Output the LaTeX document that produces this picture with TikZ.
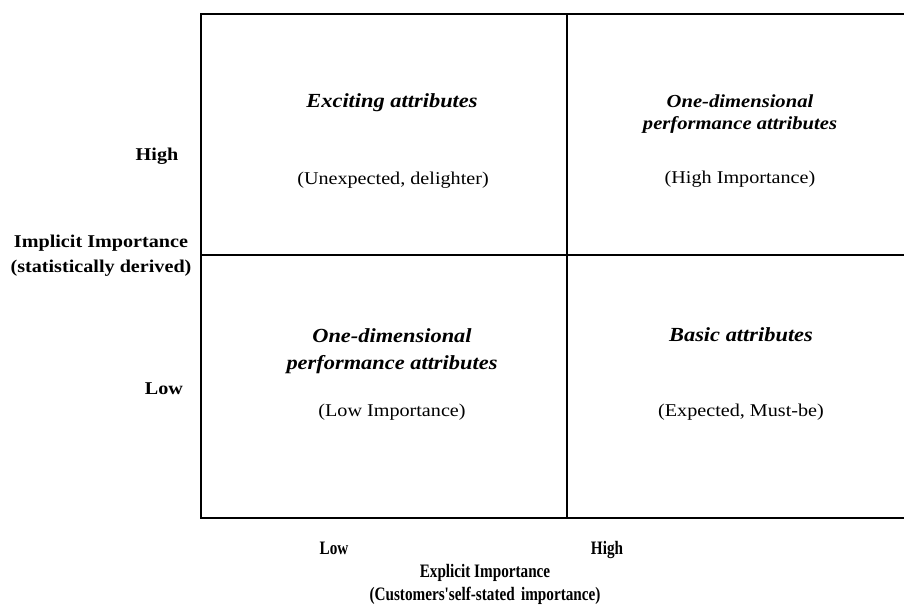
\documentclass[tikz,border=0pt]{standalone}
\usepackage{fontspec}
\setmainfont{Liberation Serif}[FakeStretch=1.12]
\newfontfamily\narrowfont{Liberation Serif}[FakeStretch=0.8]
\begin{document}
\begin{tikzpicture}[x=1pt, y=-1pt,
  ttl/.style={font=\fontsize{20}{27}\selectfont\bfseries\itshape, align=center},
  dsc/.style={font=\fontsize{18}{20}\selectfont},
  axl/.style={font=\fontsize{18}{25}\selectfont\bfseries, align=center},
  bxl/.style={font=\narrowfont\fontsize{19}{23}\selectfont\bfseries, align=center}]
  \useasboundingbox (0,0) rectangle (904,605);
  % grid
  \draw[line width=2pt] (904,14) -- (201,14) -- (201,517.5) -- (904,517.5);
  \draw[line width=2pt] (567,14) -- (567,517.5);
  \draw[line width=2pt] (201,255) -- (904,255);
  % quadrants
  \node[ttl] (exc) at (392,103) {Exciting attributes};
  \node[dsc] (excd) at (393,180) {(Unexpected, delighter)};
  \node[ttl, font=\fontsize{18.4}{22}\selectfont\bfseries\itshape] (odh) at (740,114) {One-dimensional\\performance attributes};
  \node[dsc] (odhd) at (740,179) {(High Importance)};
  \node[ttl] (odl) at (392,351) {One-dimensional\\performance attributes};
  \node[dsc] (odld) at (392,412) {(Low Importance)};
  \node[ttl] (bas) at (741,335) {Basic attributes};
  \node[dsc] (basd) at (741,412) {(Expected, Must-be)};
  % axes
  \node[axl, anchor=base] (yhi) at (157,160) {High};
  \node[axl, anchor=base] (ylo) at (164,394) {Low};
  \node[axl] (ytl) at (101,256) {Implicit Importance\\(statistically derived)};
  \node[bxl, anchor=base] (xlo) at (334,554) {Low};
  \node[bxl, anchor=base] (xhi) at (607,554) {High};
  \node[bxl] (xtl) at (485,584) {Explicit Importance\\(Customers'self-stated\,\,importance)};
\end{tikzpicture}
\end{document}
